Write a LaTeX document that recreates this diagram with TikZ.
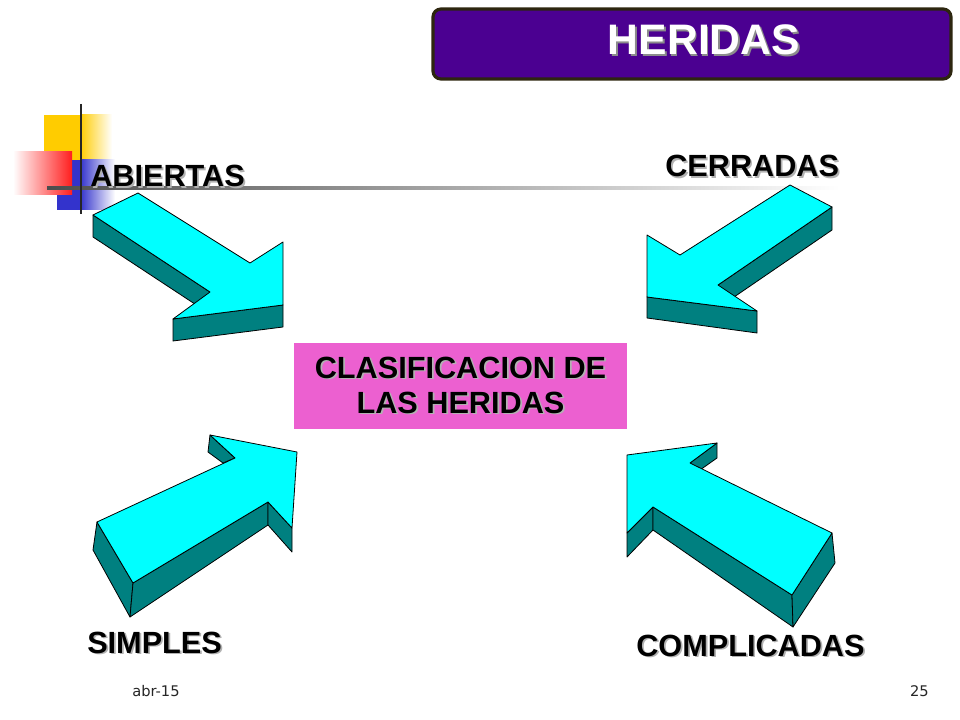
\documentclass[tikz,border=0pt]{standalone}
\usepackage{fontspec}
\setmainfont{Liberation Sans}
\newfontfamily\footfont{DejaVu Sans}
\usepackage{tikz}
\usetikzlibrary{calc}

\definecolor{arrowcyan}{RGB}{0,255,255}
\definecolor{arrowteal}{RGB}{0,128,128}
\definecolor{titlepurple}{RGB}{75,0,145}
\definecolor{titleborder}{RGB}{45,38,15}
\definecolor{boxpink}{RGB}{236,96,208}
\definecolor{decoyellow}{RGB}{255,204,0}
\definecolor{decored}{RGB}{255,30,30}
\definecolor{decoblue}{RGB}{51,51,204}

\newcommand{\shadowed}[2]{\makebox[0pt][l]{\hspace{1.3pt}\raisebox{-1.3pt}{\textcolor{#1}{#2}}}#2}

\begin{document}
\begin{tikzpicture}[x=0.75pt, y=-0.75pt,
        topface/.style={fill=arrowcyan, draw=black, line width=0.6pt, line join=round},
        sideface/.style={fill=arrowteal, draw=black, line width=0.6pt, line join=round},
        woundlabel/.style={font=\fontsize{23}{26}\selectfont\bfseries, anchor=base west, inner sep=0pt},
        footer/.style={font=\footfont\fontsize{11}{13}\selectfont, text=black!85, inner sep=0pt}]
        \useasboundingbox[fill=white] (0,0) rectangle (960,720);

        % corner decoration
        \fill[decoyellow] (44,115) rectangle (80,160);
        \shade[left color=decoyellow, right color=white] (80,115) rectangle (112,160);
        \fill[decoblue] (57,160) rectangle (80,210);
        \shade[left color=decoblue, right color=white] (80,160) rectangle (115,210);
        \shade[left color=white, right color=decored] (13,152) rectangle (72,195);
        \shade[left color=black!70, right color=white] (47,187) rectangle (840,189.5);
        \draw[black!85, line width=1.8pt] (81,104) -- (81,214);

        % title
        \draw[titleborder, fill=titlepurple, line width=2.4pt, rounded corners=6pt] (433,9) rectangle (951,79);
        \node[font=\fontsize{32}{36}\selectfont\bfseries, text=white] (titulo) at (704,41) {\shadowed{black!45}{HERIDAS}};

        % center box
        \node[fill=boxpink, minimum width=249.75pt, minimum height=64.5pt, align=center,
              font=\fontsize{23}{26.25}\selectfont\bfseries] (clasif) at (460.5,386)
              {\shadowed{black!30}{CLASIFICACION DE}\\\shadowed{black!30}{LAS HERIDAS}};

        % arrow ABIERTAS
        \filldraw[sideface] (93,215) -- (93,237) -- (210,314) -- (210,292) -- cycle;
        \filldraw[sideface] (173,319) -- (283,305) -- (283,327) -- (173,341) -- cycle;
        \filldraw[topface] (93,215) -- (138,193) -- (250,263) -- (283,242) -- (283,305) -- (173,319) -- (210,292) -- cycle;

        % arrow CERRADAS
        \filldraw[sideface] (832,207) -- (832,230) -- (718,308) -- (718,285) -- cycle;
        \filldraw[sideface] (647,297) -- (757,311) -- (757,333) -- (647,318) -- cycle;
        \filldraw[topface] (790,185) -- (832,207) -- (718,285) -- (757,311) -- (647,297) -- (647,235) -- (680,255) -- cycle;

        % arrow SIMPLES
        \filldraw[sideface] (97,522) -- (93,550) -- (130,617) -- (133,583) -- cycle;
        \filldraw[sideface] (133,583) -- (130,617) -- (268,525) -- (268,502) -- cycle;
        \filldraw[sideface] (268,502) -- (292,528) -- (292,552) -- (268,525) -- cycle;
        \filldraw[sideface] (210,435) -- (208,452) -- (223,463) -- (235,458) -- cycle;
        \filldraw[topface] (97,522) -- (133,583) -- (268,502) -- (292,528) -- (297,452) -- (210,435) -- (235,458) -- cycle;

        % arrow COMPLICADAS
        \filldraw[sideface] (717,443) -- (717,458) -- (700,470) -- (690,463) -- cycle;
        \filldraw[sideface] (627,533) -- (627,557) -- (653,530) -- (653,507) -- cycle;
        \filldraw[sideface] (653,507) -- (653,530) -- (793,627) -- (792,595) -- cycle;
        \filldraw[sideface] (792,595) -- (793,627) -- (835,563) -- (832,533) -- cycle;
        \filldraw[topface] (627,455) -- (717,443) -- (690,463) -- (832,533) -- (792,595) -- (653,507) -- (627,533) -- cycle;

        % labels
        \node[woundlabel] (abiertas) at (90,187) {\shadowed{black!30}{ABIERTAS}};
        \node[woundlabel] (cerradas) at (665,177) {\shadowed{black!30}{CERRADAS}};
        \node[woundlabel] (simples) at (87,653) {\shadowed{black!30}{SIMPLES}};
        \node[woundlabel] (complicadas) at (636,656) {\shadowed{black!30}{COMPLICADAS}};

        % footer
        \node[footer, anchor=base west] (fecha) at (132,696) {abr-15};
        \node[footer, anchor=base east] (pagina) at (929,696) {25};
    \end{tikzpicture}
\end{document}
